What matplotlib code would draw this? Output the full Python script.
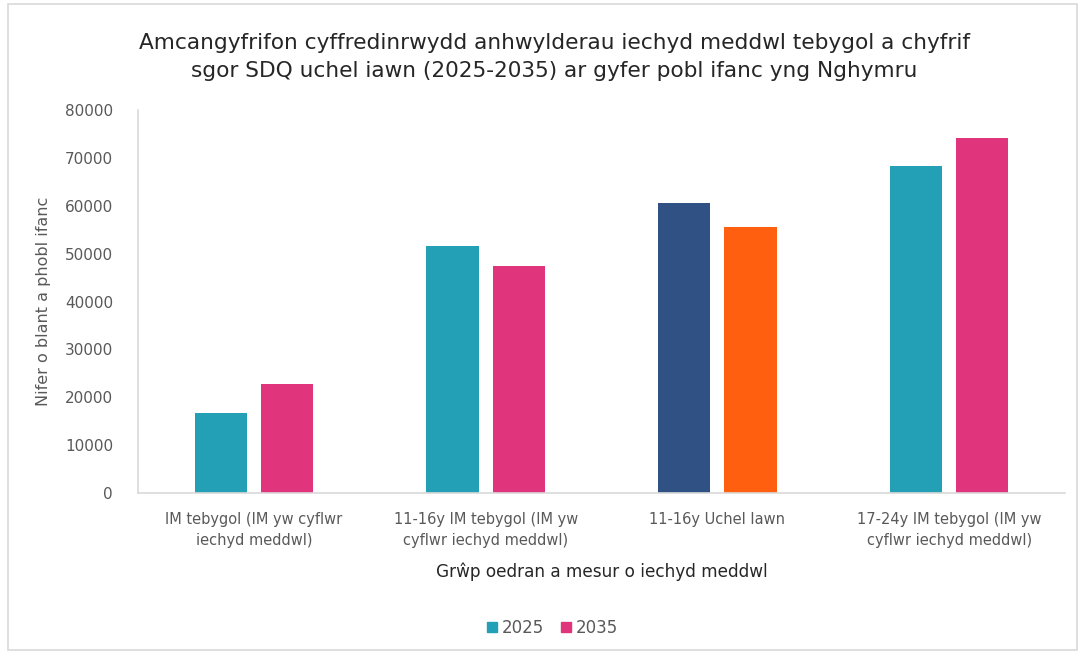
import matplotlib
matplotlib.use("Agg")
import matplotlib.pyplot as plt
from matplotlib.patches import Rectangle, Patch
import numpy as np

plt.rcParams['font.family'] = ['DejaVu Sans']

categories = [
    "IM tebygol (IM yw cyflwr\niechyd meddwl)",
    "11-16y IM tebygol (IM yw\ncyflwr iechyd meddwl)",
    "11-16y Uchel Iawn",
    "17-24y IM tebygol (IM yw\ncyflwr iechyd meddwl)",
]
series_names = ["2025", "2035"]
values_2025 = [16800, 51600, 60500, 68300]
values_2035 = [22800, 47500, 55600, 74200]
yticks = [0, 10000, 20000, 30000, 40000, 50000, 60000, 70000, 80000]

title = ("Amcangyfrifon cyffredinrwydd anhwylderau iechyd meddwl tebygol a chyfrif\n"
         "sgor SDQ uchel iawn (2025-2035) ar gyfer pobl ifanc yng Nghymru")
xlabel = "Grŵp oedran a mesur o iechyd meddwl"
ylabel = "Nifer o blant a phobl ifanc"

teal = "#23A0B5"
pink = "#E0357D"
navy = "#2F5183"
orange = "#FF5F0F"
colors_2025 = [teal, teal, navy, teal]
colors_2035 = [pink, pink, orange, pink]

fig = plt.figure(figsize=(10.83, 6.54), dpi=100)
fig.patch.set_facecolor("white")
fig.patches.append(Rectangle((8 / 1083, 4 / 654), 1069 / 1083, 646 / 654,
                             transform=fig.transFigure, fill=False,
                             edgecolor="#d9d9d9", linewidth=1.2))

ax = fig.add_axes([138 / 1083, 1 - 493 / 654, (1065 - 138) / 1083, (493 - 110) / 654])
x = np.arange(len(categories))
w = 0.225
off = 0.143
ax.bar(x - off, values_2025, w, color=colors_2025)
ax.bar(x + off, values_2035, w, color=colors_2035)

ax.set_xlim(-0.5, len(categories) - 0.5)
ax.set_ylim(0, 80000)
ax.set_yticks(yticks)
ax.set_yticklabels([str(v) for v in yticks])
ax.set_xticks(x)
ax.set_xticklabels(categories, linespacing=1.5)
ax.tick_params(axis="both", length=0, colors="#595959")
ax.tick_params(axis="y", pad=18, labelsize=11)
ax.tick_params(axis="x", pad=14, labelsize=10.5)
for s in ["top", "right"]:
    ax.spines[s].set_visible(False)
for s in ["left", "bottom"]:
    ax.spines[s].set_color("#d9d9d9")
    ax.spines[s].set_linewidth(1.2)

ax.set_xlabel(xlabel, fontsize=12.2, color="#262626", labelpad=10)
ax.set_ylabel(ylabel, fontsize=11.5, color="#595959")
ax.yaxis.set_label_coords(-0.094, 0.5)

fig.text(0.512, 1 - 57 / 654, title, ha="center", va="center",
         fontsize=15.6, color="#262626", linespacing=1.5)

handles = [Patch(color=teal, label=series_names[0]),
           Patch(color=pink, label=series_names[1])]
fig.legend(handles=handles, loc="center", bbox_to_anchor=(0.51, 1 - 628 / 654),
           ncol=2, frameon=False, fontsize=12, handlelength=0.6, handleheight=0.6,
           handletextpad=0.3, columnspacing=1.0, labelcolor="#595959")

fig.savefig("out.png", dpi=100)
